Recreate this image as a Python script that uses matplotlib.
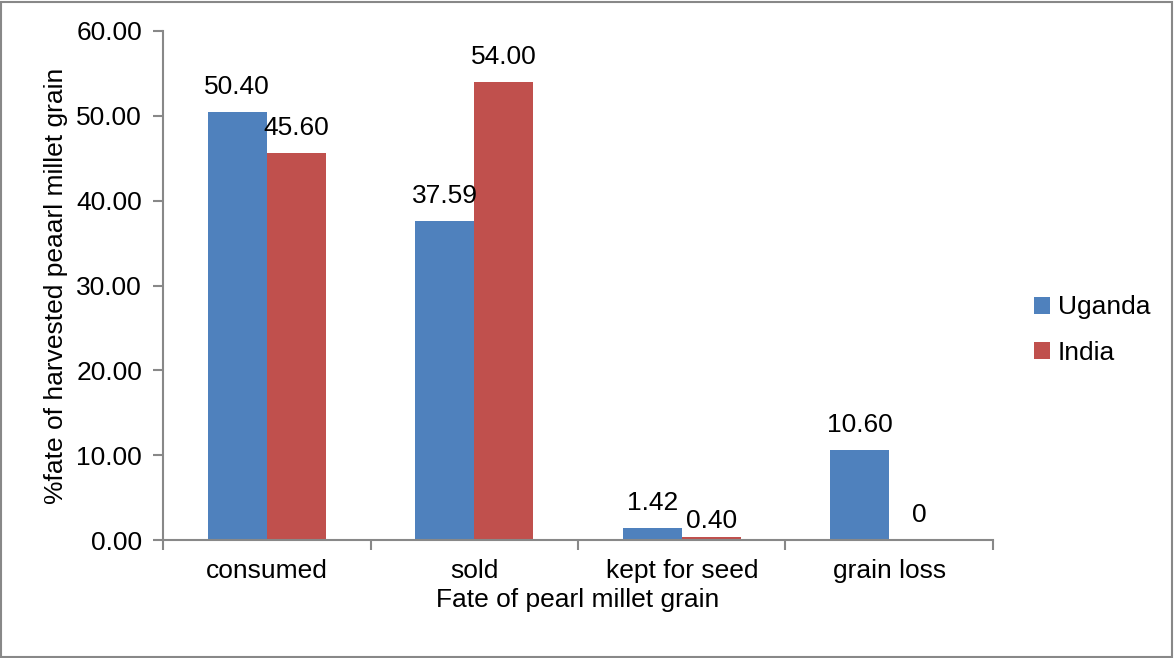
import numpy as np
import matplotlib.pyplot as plt
from matplotlib.patches import Rectangle

categories = ["consumed", "sold", "kept for seed", "grain loss"]
uganda = [50.40, 37.59, 1.42, 10.60]
india = [45.60, 54.00, 0.40, 0.0]
uganda_labels = ["50.40", "37.59", "1.42", "10.60"]
india_labels = ["45.60", "54.00", "0.40", "0"]

plt.rcParams['font.family'] = ['Liberation Sans', 'DejaVu Sans']
fs = 19

fig = plt.figure(figsize=(11.74, 6.58), dpi=100)
ax = fig.add_axes([163 / 1174, 118 / 658, 830 / 1174, 509 / 658])

x = np.arange(len(categories))
w = 0.285
b1 = ax.bar(x - w / 2, uganda, w, color="#4F81BD", label="Uganda")
b2 = ax.bar(x + w / 2, india, w, color="#C0504D", label="India")

# labels sit ~18px above the bar top (baseline)
for bars, labels in [(b1, uganda_labels), (b2, india_labels)]:
    for bar, lab in zip(bars, labels):
        off = 13 if lab != "0.40" else 6
        ax.annotate(lab, (bar.get_x() + bar.get_width() / 2, bar.get_height()),
                    xytext=(0, off), textcoords="offset points", ha="center",
                    va="baseline", fontsize=fs)

ax.set_xlim(-0.5, len(categories) - 0.5)
ax.set_ylim(0, 60)
ax.set_yticks(np.arange(0, 61, 10))
ax.set_yticklabels([f"{v:.2f}" for v in np.arange(0, 61, 10)], fontsize=fs)
ax.set_xticks(x)
ax.set_xticklabels(categories, fontsize=fs)
ax.tick_params(axis="x", length=0, pad=14)
ax.set_xticks(np.arange(-0.5, len(categories), 1), minor=True)
ax.tick_params(axis="x", which="minor", length=7, color="#888888", width=1.5)
ax.tick_params(axis="y", length=7, color="#888888", width=1.5, pad=8)

for s in ["top", "right"]:
    ax.spines[s].set_visible(False)
for s in ["left", "bottom"]:
    ax.spines[s].set_color("#888888")
    ax.spines[s].set_linewidth(1.5)

ax.set_xlabel("Fate of pearl millet grain", fontsize=fs, labelpad=3)
ax.set_ylabel("%fate of harvested peaarl millet grain", fontsize=fs, labelpad=6)

leg = fig.legend(handles=[b1, b2], loc="center left", bbox_to_anchor=(1010 / 1174, 1 - 330 / 658),
                 frameon=False, fontsize=fs, handlelength=0.6, handleheight=0.6,
                 handletextpad=0.3, labelspacing=0.8)

fig.patches.append(Rectangle((0.001, 0.002), 0.997, 0.995, transform=fig.transFigure,
                             fill=False, edgecolor="#888888", linewidth=1.5))

fig.savefig("out.png", dpi=100)
